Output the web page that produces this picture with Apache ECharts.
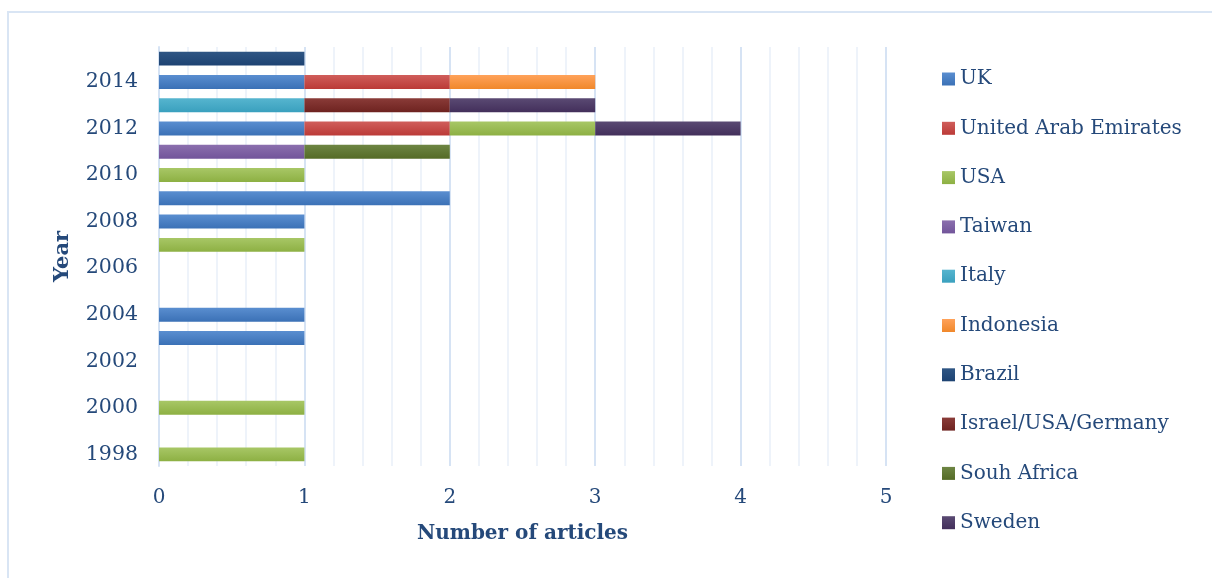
<!DOCTYPE html>
<html><head><meta charset="utf-8">
<script src="https://cdn.jsdelivr.net/npm/echarts@6/dist/echarts.min.js"></script>
<style>html,body{margin:0;padding:0;background:#fff}#c{width:1212px;height:578px}</style>
</head><body><div id="c"></div>
<script>
const years = ['1998','1999','2000','2001','2002','2003','2004','2005','2006','2007','2008','2009','2010','2011','2012','2013','2014','2015'];
const seriesNames = ['UK','United Arab Emirates','USA','Taiwan','Italy','Indonesia','Brazil','Israel/USA/Germany','Souh Africa','Sweden'];
//                 98   99   00   01   02   03   04   05   06   07   08   09   10   11   12   13   14   15
const uk       = [null,null,null,null,null,1,   1,   null,null,null,1,   2,   null,null,1,   null,1,   null];
const uae      = [null,null,null,null,null,null,null,null,null,null,null,null,null,null,1,   null,1,   null];
const usa      = [1,   null,1,   null,null,null,null,null,null,1,   null,null,1,   null,1,   null,null,null];
const taiwan   = [null,null,null,null,null,null,null,null,null,null,null,null,null,1,   null,null,null,null];
const italy    = [null,null,null,null,null,null,null,null,null,null,null,null,null,null,null,1,   null,null];
const indonesia= [null,null,null,null,null,null,null,null,null,null,null,null,null,null,null,null,1,   null];
const brazil   = [null,null,null,null,null,null,null,null,null,null,null,null,null,null,null,null,null,1   ];
const israel   = [null,null,null,null,null,null,null,null,null,null,null,null,null,null,null,1,   null,null];
const safrica  = [null,null,null,null,null,null,null,null,null,null,null,null,null,1,   null,null,null,null];
const sweden   = [null,null,null,null,null,null,null,null,null,null,null,null,null,null,1,   1,   null,null];
const xTicks = [0,1,2,3,4,5];

const dataList = [uk,uae,usa,taiwan,italy,indonesia,brazil,israel,safrica,sweden];
const colors = [
  ['#5A8ED0','#3B71B6'],
  ['#D05E5B','#BB3A37'],
  ['#A8C766','#8DB043'],
  ['#8B6FAE','#72559A'],
  ['#56B5CF','#3AA0BE'],
  ['#FFA25A','#F0882B'],
  ['#2F5684','#1D4272'],
  ['#8A3B38','#6E2320'],
  ['#6D8543','#556B26'],
  ['#5A4A73','#432F5B']
];
const textColor = '#25497A';
const font = 'DejaVu Serif';
const chart = echarts.init(document.getElementById('c'));
chart.setOption({
  animation:false,
  backgroundColor:'#fff',
  graphic:[{type:'rect',shape:{x:8,y:12,width:1230,height:600},style:{fill:'none',stroke:'#D9E5F4',lineWidth:2},silent:true}],
  grid:{left:159,right:326,top:47,bottom:112},
  legend:{
    orient:'vertical',left:942,top:69,padding:0,itemGap:29.3,itemWidth:13,itemHeight:13,icon:'rect',
    textStyle:{color:textColor,fontFamily:font,fontSize:20,lineHeight:20},
    data:seriesNames
  },
  xAxis:{
    type:'value',min:0,max:5,interval:1,
    name:'Number of articles',nameLocation:'middle',nameGap:58,
    nameTextStyle:{color:textColor,fontFamily:font,fontSize:20,fontWeight:'bold'},
    axisLine:{show:false},axisTick:{show:false},
    axisLabel:{color:textColor,fontFamily:font,fontSize:20,margin:22,formatter:v=>xTicks.includes(v)?String(v):''},
    splitLine:{show:true,lineStyle:{color:'#D6E3F4',width:2}},
    minorTick:{show:false,splitNumber:5},
    minorSplitLine:{show:true,lineStyle:{color:'#EEF3FA',width:2}}
  },
  yAxis:{
    type:'category',data:years,
    name:'Year',nameLocation:'middle',nameGap:86,nameRotate:90,
    nameTextStyle:{color:textColor,fontFamily:font,fontSize:21,fontWeight:'bold'},
    axisLine:{show:true,lineStyle:{color:'#D6E3F4',width:2}},axisTick:{show:false},
    axisLabel:{color:textColor,fontFamily:font,fontSize:20.5,interval:1,margin:21}
  },
  series:seriesNames.map((n,i)=>({
    name:n,type:'bar',stack:'total',barWidth:'60%',
    data:dataList[i],
    itemStyle:{color:new echarts.graphic.LinearGradient(0,0,0,1,[{offset:0,color:colors[i][0]},{offset:1,color:colors[i][1]}])}
  }))
});
</script></body></html>
